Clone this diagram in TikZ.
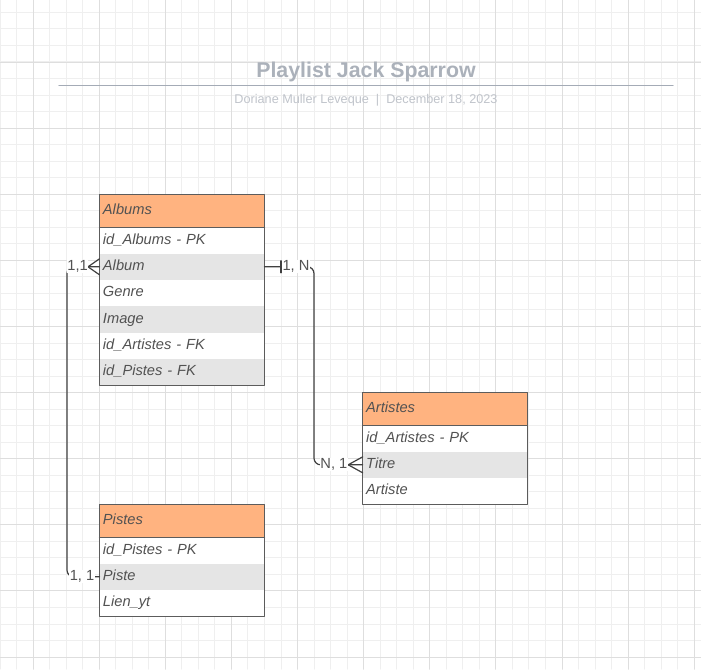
\documentclass[tikz,border=0pt]{standalone}
\usepackage{fontspec}
\setmainfont{Liberation Sans}
\usepackage{tikz}
\definecolor{ink}{HTML}{525252}
\definecolor{edge}{HTML}{5C5C5C}
\definecolor{wire}{HTML}{404040}
\definecolor{headfill}{HTML}{FFB380}
\definecolor{rowfill}{HTML}{E5E5E5}
\definecolor{gridminor}{HTML}{EFEFEF}
\definecolor{gridmajor}{HTML}{DEDEDE}
\definecolor{titlegray}{HTML}{ABB1BA}
\definecolor{rulegray}{HTML}{A4ABB6}
\definecolor{subgray}{HTML}{C0C4CB}
\usetikzlibrary{
  positioning,
  calc
}
\tikzset{
  every picture/.style={line cap=round, line join=round},
  cell/.style={
    rectangle,
    outer sep=0pt,
    inner xsep=2.6pt,
    inner ysep=0pt,
    text width=118.55pt,
    align=left,
    minimum height=19.75pt,
    text height=7.7pt,
    text depth=2.3pt,
    font=\itshape\fontsize{11}{13}\selectfont,
    text=ink
  },
  tabhead/.style={cell, fill=headfill, minimum height=24.75pt},
  tabrow/.style={cell, fill=white},
  tabrowg/.style={cell, fill=rowfill},
  box/.style={draw=edge, line width=0.8pt},
  conn/.style={draw=wire, line width=0.9pt},
  card/.style={font=\fontsize{11}{13}\selectfont, text=ink, fill=white, inner sep=0.3pt},
  gridline/.style={draw=gridminor, line width=0.75pt},
  gridbold/.style={draw=gridmajor, line width=0.75pt}
}

\begin{document}
\begin{tikzpicture}[x=0.75pt, y=-0.75pt]
  \useasboundingbox (0,0) rectangle (701,669);
  \fill[white] (0,0) rectangle (701,669);

  % background grid
  \foreach \x in {0,16.53,...,701} \draw[gridline] (\x,0) -- (\x,669);
  \foreach \y in {12.4,28.93,...,669} \draw[gridline] (0,\y) -- (701,\y);
  \foreach \x in {33.06,99.18,...,701} \draw[gridbold] (\x,0) -- (\x,669);
  \foreach \y in {62,128.12,...,669} \draw[gridbold] (0,\y) -- (701,\y);

  % title block
  \node[font=\bfseries\fontsize{16}{19}\selectfont, text=titlegray, anchor=base] (title) at (366,77.7) {Playlist Jack Sparrow};
  \draw[rulegray, line width=1.1pt] (59,85.5) -- (673,85.5);
  \node[font=\fontsize{9.5}{11}\selectfont, text=subgray, anchor=base] (byline) at (366,103.3) {Doriane Muller Leveque\ \ |\ \ December 18, 2023};

  % Albums
  \node[tabhead, anchor=north west] (alb) at (99.5,194.3) {Albums};
  \node[tabrow, below=0pt of alb] (albId) {id\_Albums - PK};
  \node[tabrowg, below=0pt of albId] (albName) {Album};
  \node[tabrow, below=0pt of albName] (albGenre) {Genre};
  \node[tabrowg, below=0pt of albGenre] (albImage) {Image};
  \node[tabrow, below=0pt of albImage] (albArt) {id\_Artistes - FK};
  \node[tabrowg, below=0pt of albArt] (albPis) {id\_Pistes - FK};

  % Artistes
  \node[tabhead, anchor=north west] (art) at (362.7,392.3) {Artistes};
  \node[tabrow, below=0pt of art] (artId) {id\_Artistes - PK};
  \node[tabrowg, below=0pt of artId] (artTitre) {Titre};
  \node[tabrow, below=0pt of artTitre] (artNom) {Artiste};

  % Pistes
  \node[tabhead, anchor=north west] (pis) at (99.5,504.3) {Pistes};
  \node[tabrow, below=0pt of pis] (pisId) {id\_Pistes - PK};
  \node[tabrowg, below=0pt of pisId] (pisPiste) {Piste};
  \node[tabrow, below=0pt of pisPiste] (pisLien) {Lien\_yt};

  \foreach \t/\b in {alb/albPis, art/artNom, pis/pisLien} {
    \draw[box] (\t.north west) rectangle (\b.south east);
    \draw[box] (\t.south west) -- (\t.south east);
  }

  % relations
  \draw[conn, rounded corners=5pt] (albName.west) -- ++(-32.5,0) |- (pisPiste.west);
  \draw[conn, rounded corners=5pt] (albName.east) -- ++(49.5,0) |- (artTitre.west);

  \draw[conn] ($(albName.west)+(-11.5,0)$) -- ($(albName.west)+(0,-8)$)
              ($(albName.west)+(-11.5,0)$) -- ($(albName.west)+(0,8)$);
  \draw[conn] ($(artTitre.west)+(-14.5,0)$) -- ($(artTitre.west)+(0,-8)$)
              ($(artTitre.west)+(-14.5,0)$) -- ($(artTitre.west)+(0,8)$);
  \draw[conn] ($(albName.east)+(16.5,-6)$) -- ($(albName.east)+(16.5,6)$);

  \node[card, left=8.3pt of albName.west] (cAlbPis) {1,1};
  \node[card, right=13pt of albName.east] (cAlbArt) {1, N};
  \node[card, left=11pt of artTitre.west] (cArtAlb) {N, 1};
  \node[card, left=3.4pt of pisPiste.west] (cPisAlb) {1, 1};
\end{tikzpicture}
\end{document}
